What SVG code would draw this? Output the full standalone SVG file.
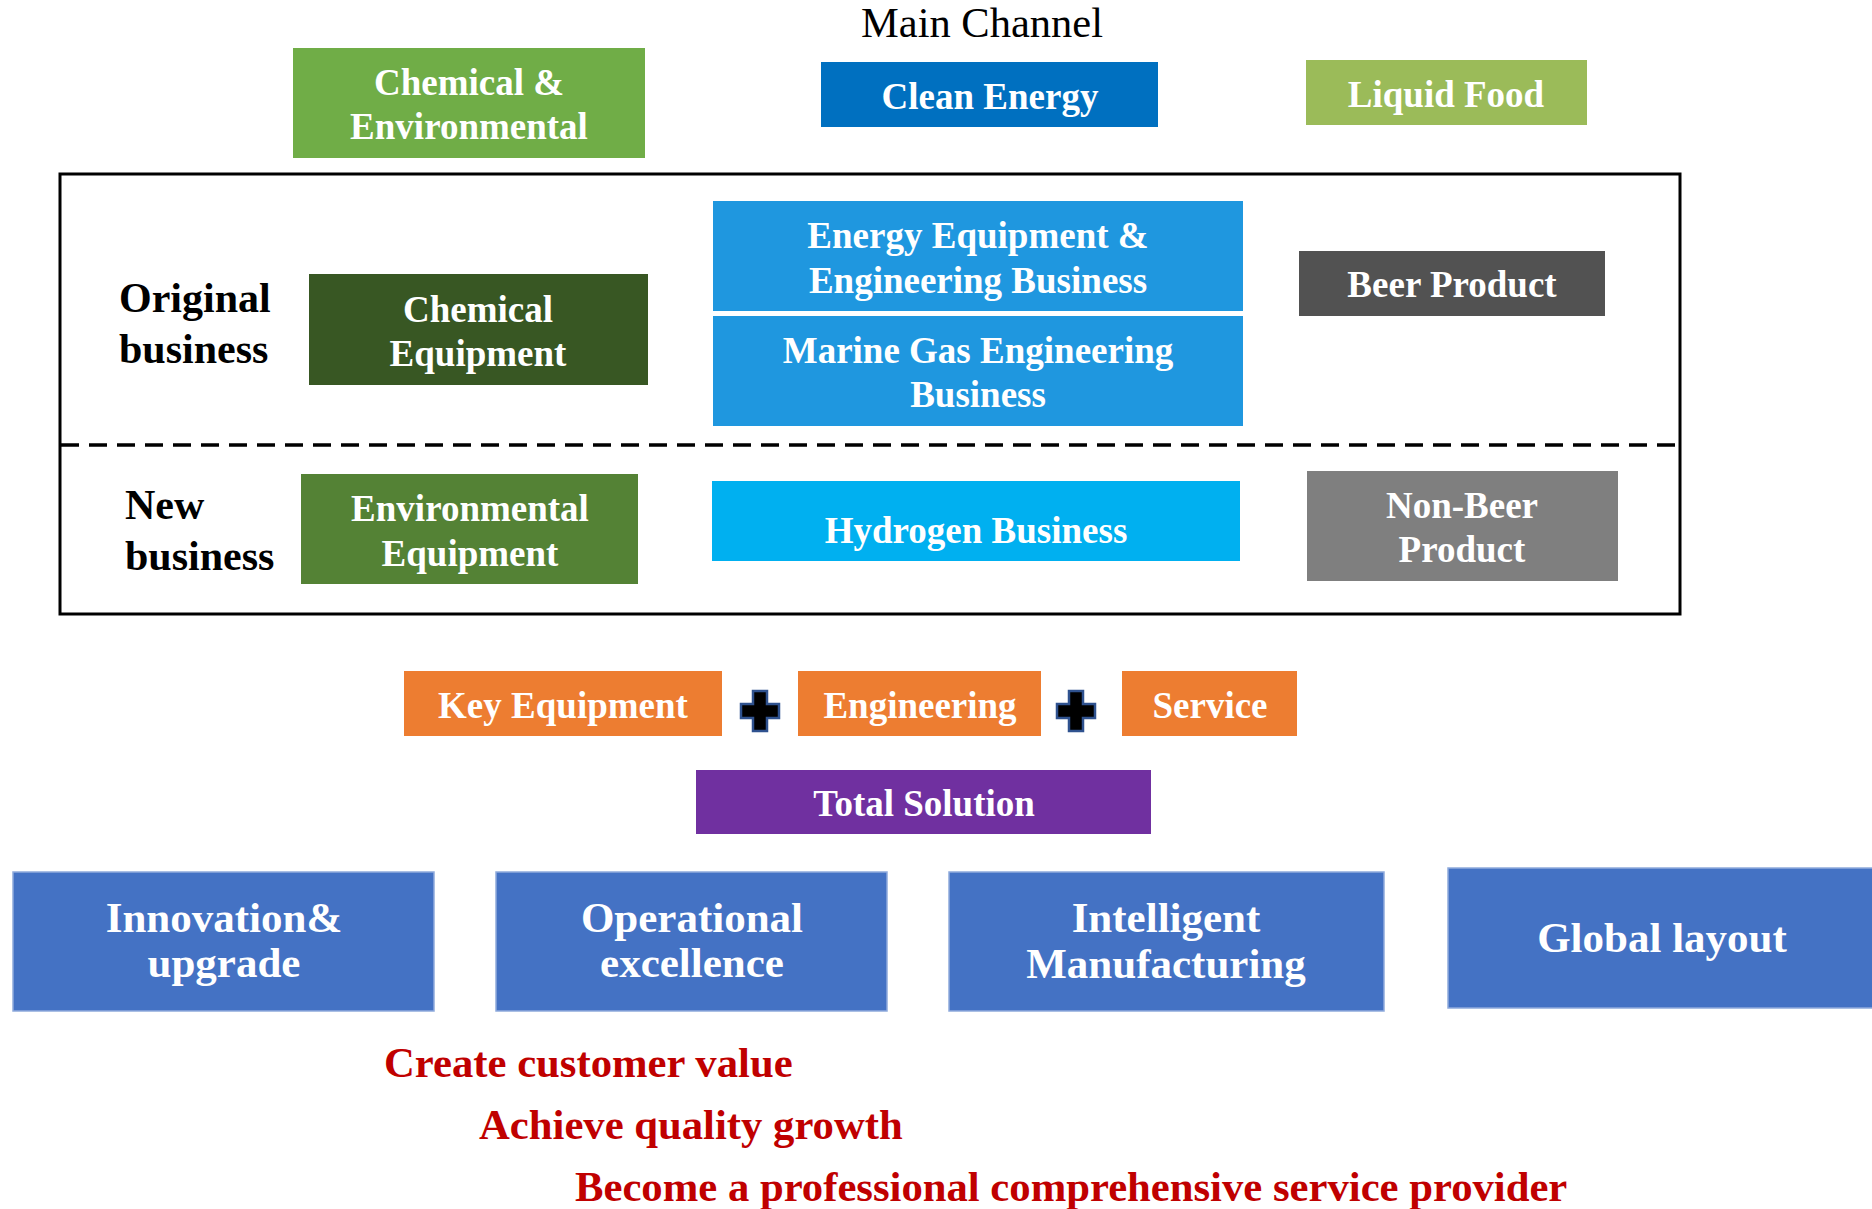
<svg xmlns="http://www.w3.org/2000/svg" width="1872" height="1209" viewBox="0 0 1872 1209">
  <style>
    text { font-family: "Liberation Serif", "Times New Roman", serif; }
    .title { fill: #000000; font-size: 42.5px; text-anchor: middle; }
    .lbl { fill: #ffffff; font-weight: bold; font-size: 37px; text-anchor: middle; }
    .big { fill: #ffffff; font-weight: bold; font-size: 43px; text-anchor: middle; }
    .side { fill: #000000; font-weight: bold; font-size: 42px; }
    .goal { fill: #C00000; font-weight: bold; font-size: 42.7px; }
    .pillar { fill: #4472C4; stroke: #8FAADC; stroke-width: 1.5; }
    .plus { fill: #000000; stroke: #2F528F; stroke-width: 2.5; }
  </style>

  <!-- heading -->
  <text class="title" x="982" y="37" font-family="Liberation Serif, serif">Main Channel</text>

  <!-- main channel headers -->
  <g id="chem-env">
    <rect x="293" y="48" width="352" height="110" fill="#70AD47"/>
    <text class="lbl" x="469" y="95">Chemical &amp;</text>
    <text class="lbl" x="469" y="139">Environmental</text>
  </g>
  <g id="clean-energy">
    <rect x="821" y="62" width="337" height="65" fill="#0070C0"/>
    <text class="lbl" x="990" y="109">Clean Energy</text>
  </g>
  <g id="liquid-food">
    <rect x="1306" y="60" width="281" height="65" fill="#9BBB59"/>
    <text class="lbl" x="1446" y="107">Liquid Food</text>
  </g>

  <!-- business frame -->
  <g id="frame">
    <rect x="60" y="174" width="1620" height="440" fill="none" stroke="#000" stroke-width="3"/>
    <line x1="61" y1="445" x2="1679" y2="445" stroke="#000" stroke-width="3.5" stroke-dasharray="18 10"/>
  </g>

  <g id="original-label">
    <text class="side" x="119" y="312">Original</text>
    <text class="side" x="119" y="363">business</text>
  </g>
  <g id="new-label">
    <text class="side" x="125" y="519">New</text>
    <text class="side" x="125" y="570">business</text>
  </g>

  <g id="chemical-equipment">
    <rect x="309" y="274" width="339" height="111" fill="#385723"/>
    <text class="lbl" x="478" y="322">Chemical</text>
    <text class="lbl" x="478" y="366">Equipment</text>
  </g>
  <g id="energy-equipment">
    <rect x="713" y="201" width="530" height="110" fill="#1F97DF"/>
    <text class="lbl" x="978" y="248">Energy Equipment &amp;</text>
    <text class="lbl" x="978" y="293">Engineering Business</text>
  </g>
  <g id="marine-gas">
    <rect x="713" y="316" width="530" height="110" fill="#1F97DF"/>
    <text class="lbl" x="978" y="363">Marine Gas Engineering</text>
    <text class="lbl" x="978" y="407">Business</text>
  </g>
  <g id="beer-product">
    <rect x="1299" y="251" width="306" height="65" fill="#525252"/>
    <text class="lbl" x="1452" y="297">Beer Product</text>
  </g>

  <g id="environmental-equipment">
    <rect x="301" y="474" width="337" height="110" fill="#548235"/>
    <text class="lbl" x="470" y="521">Environmental</text>
    <text class="lbl" x="470" y="566">Equipment</text>
  </g>
  <g id="hydrogen">
    <rect x="712" y="481" width="528" height="80" fill="#00B0F0"/>
    <text class="lbl" x="976" y="543">Hydrogen Business</text>
  </g>
  <g id="non-beer">
    <rect x="1307" y="471" width="311" height="110" fill="#7F7F7F"/>
    <text class="lbl" x="1462" y="518">Non-Beer</text>
    <text class="lbl" x="1462" y="562">Product</text>
  </g>

  <!-- offering row -->
  <g id="key-equipment">
    <rect x="404" y="671" width="318" height="65" fill="#ED7D31"/>
    <text class="lbl" x="563" y="718">Key Equipment</text>
  </g>
  <g id="plus-1">
    <polygon class="plus" points="753,691 767,691 767,704 779,704 779,718 767,718 767,731 753,731 753,718 741,718 741,704 753,704"/>
  </g>
  <g id="engineering">
    <rect x="798" y="671" width="243" height="65" fill="#ED7D31"/>
    <text class="lbl" x="920" y="718">Engineering</text>
  </g>
  <g id="plus-2">
    <polygon class="plus" points="1069,691 1083,691 1083,704 1095,704 1095,718 1083,718 1083,731 1069,731 1069,718 1057,718 1057,704 1069,704"/>
  </g>
  <g id="service">
    <rect x="1122" y="671" width="175" height="65" fill="#ED7D31"/>
    <text class="lbl" x="1210" y="718">Service</text>
  </g>

  <g id="total-solution">
    <rect x="696" y="770" width="455" height="64" fill="#7030A0"/>
    <text class="lbl" x="924" y="816">Total Solution</text>
  </g>

  <!-- pillars -->
  <g id="innovation">
    <rect class="pillar" x="13" y="872" width="421" height="139"/>
    <text class="big" x="224" y="932">Innovation&amp;</text>
    <text class="big" x="224" y="977">upgrade</text>
  </g>
  <g id="operational">
    <rect class="pillar" x="496" y="872" width="391" height="139"/>
    <text class="big" x="692" y="932">Operational</text>
    <text class="big" x="692" y="977">excellence</text>
  </g>
  <g id="intelligent">
    <rect class="pillar" x="949" y="872" width="435" height="139"/>
    <text class="big" x="1166" y="932">Intelligent</text>
    <text class="big" x="1166" y="978">Manufacturing</text>
  </g>
  <g id="global">
    <rect class="pillar" x="1448" y="868" width="430" height="140"/>
    <text class="big" x="1662" y="952">Global layout</text>
  </g>

  <!-- goals -->
  <g id="goals">
    <text class="goal" x="384" y="1077">Create customer value</text>
    <text class="goal" x="479" y="1139">Achieve quality growth</text>
    <text class="goal" x="575" y="1201">Become a professional comprehensive service provider</text>
  </g>

  <g id="connectors"></g>
</svg>
